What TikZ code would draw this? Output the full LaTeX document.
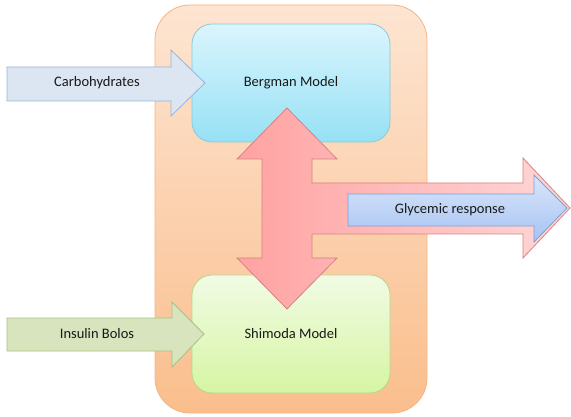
\documentclass[tikz,border=0pt]{standalone}
\usepackage{fontspec}
\setmainfont{Carlito}
\begin{document}
\begin{tikzpicture}[x=1pt,y=-1pt,
  lbl/.style={font=\fontsize{14.5}{17}\selectfont, text=black!90},
  modelbox/.style={draw, line width=0.8pt, rounded corners=20pt, minimum width=198pt, minimum height=118pt, inner sep=0pt, lbl},
  inarrow/.style={line width=0.8pt}
]
\useasboundingbox (0,0) rectangle (571,417);
% outer container
\node[draw={rgb,255:red,246;green,180;blue,130}, line width=0.8pt, rounded corners=35pt,
  top color={rgb,255:red,253;green,229;blue,210}, bottom color={rgb,255:red,250;green,190;blue,140},
  minimum width=272pt, minimum height=408pt, inner sep=0pt] (outer) at (291,209) {};
% model boxes
\node[modelbox, draw={rgb,255:red,140;green,200;blue,215},
  top color={rgb,255:red,218;green,245;blue,253}, bottom color={rgb,255:red,150;green,225;blue,245}]
  (berg) at (291,83) {Bergman Model};
\node[modelbox, draw={rgb,255:red,180;green,215;blue,140},
  top color={rgb,255:red,241;green,251;blue,228}, bottom color={rgb,255:red,214;green,245;blue,163}]
  (shim) at (291,334) {Shimoda Model};
% input arrows
\path[inarrow, draw={rgb,255:red,150;green,180;blue,215}, fill={rgb,255:red,220;green,230;blue,242}]
  (7,67) -- (171,67) -- (171,50) -- (205,83) -- (171,116) -- (171,101) -- (7,101) -- cycle;
\node[lbl] (carb) at (97,83) {Carbohydrates};
\path[inarrow, draw={rgb,255:red,168;green,192;blue,132}, fill={rgb,255:red,215;green,228;blue,189}]
  (7,318) -- (172,318) -- (172,302) -- (204,334) -- (172,367) -- (172,351) -- (7,351) -- cycle;
\node[lbl] (ins) at (97,334) {Insulin Bolos};
% red composite arrow
\path[line width=0.8pt, draw={rgb,255:red,215;green,130;blue,130},
  left color={rgb,255:red,255;green,162;blue,162}, right color={rgb,255:red,255;green,215;blue,215}]
  (287,108) -- (337,159) -- (312,159) -- (312,183) -- (523,183) -- (523,158) -- (570,208)
  -- (523,258) -- (523,234) -- (312,234) -- (312,258) -- (337,258) -- (287,309)
  -- (237,258) -- (262,258) -- (262,159) -- (237,159) -- cycle;
% output arrow
\path[inarrow, draw={rgb,255:red,125;green,160;blue,215},
  top color={rgb,255:red,218;green,230;blue,250}, bottom color={rgb,255:red,165;green,195;blue,243}]
  (348,194) -- (534,194) -- (534,175) -- (567,208) -- (534,242) -- (534,226) -- (348,226) -- cycle;
\node[lbl] (gly) at (450,210) {Glycemic response};
\end{tikzpicture}
\end{document}
